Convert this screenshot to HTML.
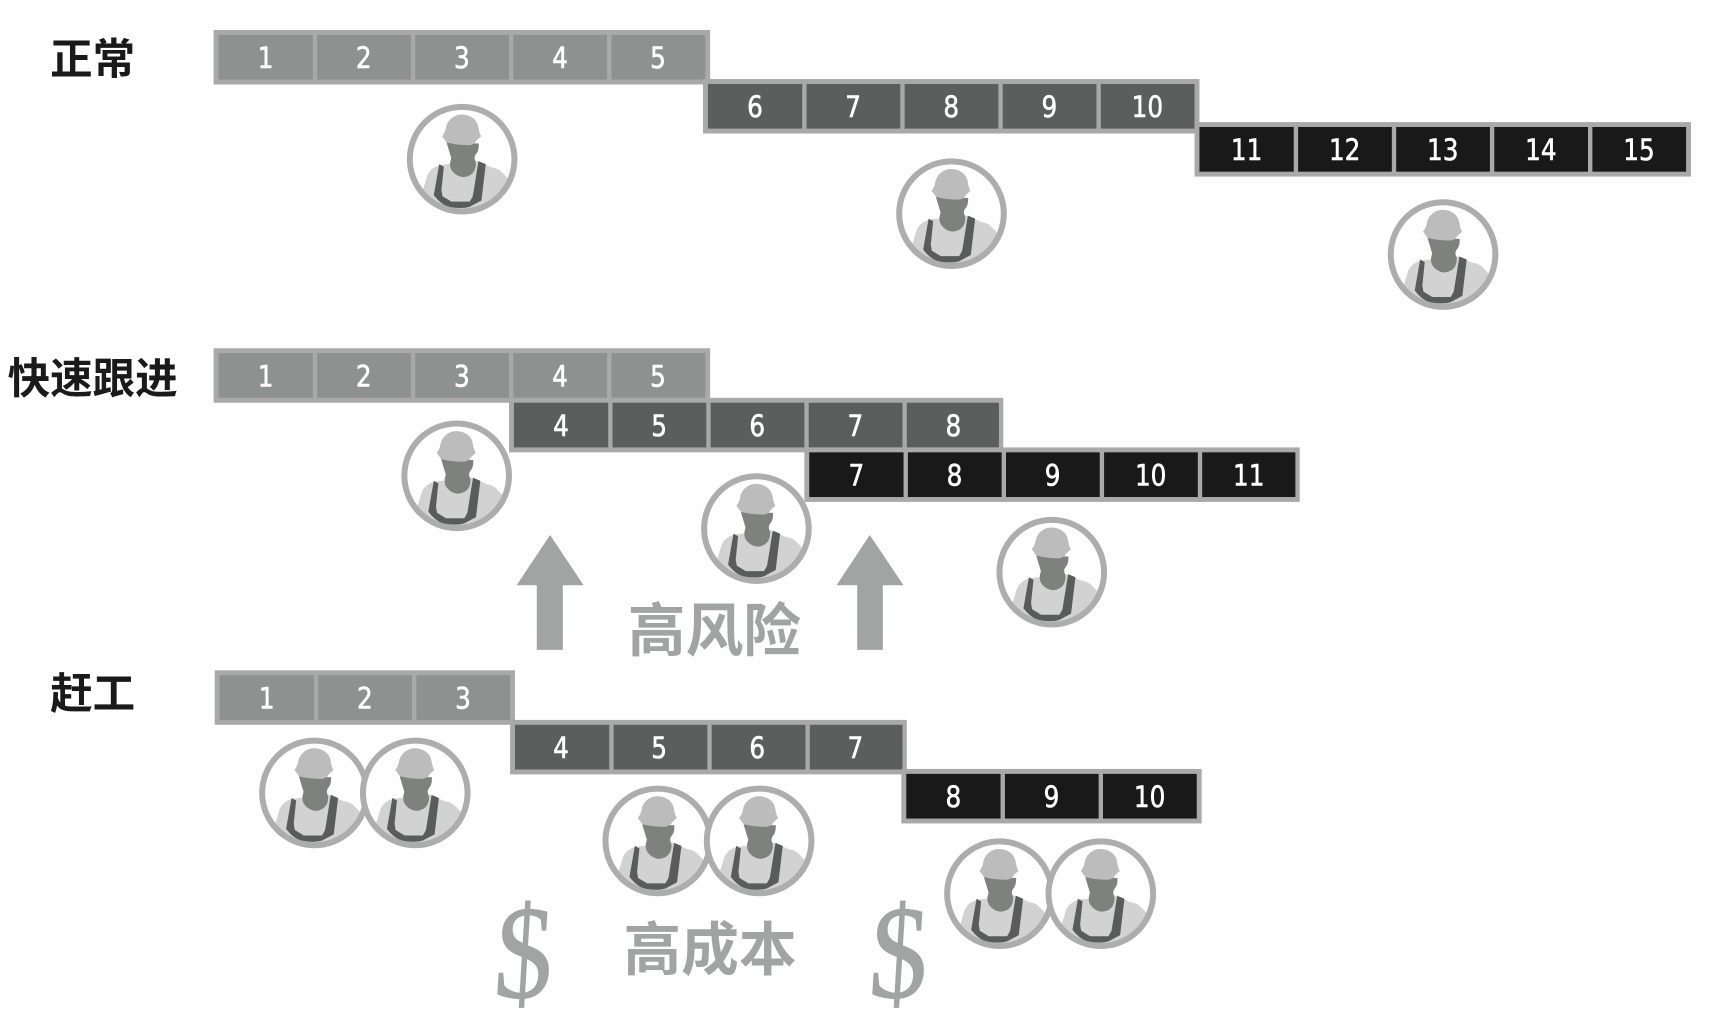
<!DOCTYPE html>
<html lang="zh">
<head>
<meta charset="utf-8">
<title>进度压缩</title>
<style>
html,body{margin:0;padding:0;background:#fefefe;}
svg{display:block;}
.o{fill:#a9a9a9;}
.a rect.c{fill:#8f9190;}
.b rect.c{fill:#5c5e5d;}
.k rect.c{fill:#191919;}
.n{font-family:"DejaVu Sans","Noto Sans CJK SC",sans-serif;font-size:27px;fill:#fff;stroke:#fff;stroke-width:.55px;text-anchor:middle;transform-box:fill-box;transform-origin:center;transform:scaleX(.84);}
.t{font-family:"Liberation Sans","Noto Sans CJK JP",sans-serif;font-weight:700;font-size:39px;fill:#1a1a1a;}
.g{font-family:"Liberation Sans","Noto Sans CJK SC",sans-serif;font-weight:700;font-size:53px;fill:#a2a4a3;}
.d{font-family:"Liberation Serif",serif;font-size:122px;fill:#a2a4a3;stroke:#a2a4a3;stroke-width:.9px;text-anchor:middle;}
</style>
</head>
<body>
<svg xmlns="http://www.w3.org/2000/svg" width="1709" height="1030" viewBox="0 0 1568 945">
<defs>
<clipPath id="cp"><circle cx="0" cy="0" r="46"/></clipPath>
<g id="p">
<circle r="48" fill="#fefefe"/>
<g clip-path="url(#cp)">
<path fill="#d2d2d2" d="M-35.8 27.5L-32 15Q-29 8-20.5 5.5L13 1.5L27 7.6Q33 8.5 36 11.5L41.3 16.8L44 40L0 50L-40 40Z"/>
<path fill="#5a5c5b" d="M-21 4.6L-26 33Q-20 41-12.8 43.7Q0 46 7 43.7L17.7 38L21.7 4.6L15 1.8L9.8 34L7 39L-9.8 39L-18 34L-19 28.4L-16.8 7Z"/>
<path fill="#7f817f" d="M-14.3-15.3L-10-1L-11 3Q-11.5 8-9 11Q-5 16 1 16.5Q8 16 11 11Q13 7 12.5 3L11.5 0Q11-3 13-5Q15.5-8 15.3-14.4Z"/>
<path fill="#bcbcbc" d="M-18.3-21C-17-23-15.5-25-15-28C-14-36-7-41-.6-41C7-41 13-37 14.5-31C15.5-27 15.5-24 17.5-21L13-17Q12-14 7-12.8C0-13-8-13.5-14.3-15.5Z"/>
</g>
<circle r="48" fill="none" stroke="#adadad" stroke-width="5.5"/>
</g>
</defs>

<rect width="1568" height="945" fill="#fefefe"/>

<text class="t" x="46" y="68">正常</text>
<text class="t" x="7" y="361">快速跟进</text>
<text class="t" x="46" y="650">赶工</text>

<g class="a" transform="translate(196,27.5)">
<rect class="o" width="455.5" height="50"/>
<rect class="c" x="4.5" y="4.5" width="86.5" height="41"/><rect class="c" x="95" y="4.5" width="86" height="41"/><rect class="c" x="185" y="4.5" width="86" height="41"/><rect class="c" x="275" y="4.5" width="86" height="41"/><rect class="c" x="365" y="4.5" width="86" height="41"/>
<text class="n" x="47.75" y="35">1</text><text class="n" x="137.75" y="35">2</text><text class="n" x="227.75" y="35">3</text><text class="n" x="317.75" y="35">4</text><text class="n" x="407.75" y="35">5</text>
</g>
<g class="b" transform="translate(645,72.5)">
<rect class="o" width="455.5" height="50"/>
<rect class="c" x="4.5" y="4.5" width="86.5" height="41"/><rect class="c" x="95" y="4.5" width="86" height="41"/><rect class="c" x="185" y="4.5" width="86" height="41"/><rect class="c" x="275" y="4.5" width="86" height="41"/><rect class="c" x="365" y="4.5" width="86" height="41"/>
<text class="n" x="47.75" y="35">6</text><text class="n" x="137.75" y="35">7</text><text class="n" x="227.75" y="35">8</text><text class="n" x="317.75" y="35">9</text><text class="n" x="407.75" y="35">10</text>
</g>
<g class="k" transform="translate(1096,112)">
<rect class="o" width="455.5" height="50"/>
<rect class="c" x="4.5" y="4.5" width="86.5" height="41"/><rect class="c" x="95" y="4.5" width="86" height="41"/><rect class="c" x="185" y="4.5" width="86" height="41"/><rect class="c" x="275" y="4.5" width="86" height="41"/><rect class="c" x="365" y="4.5" width="86" height="41"/>
<text class="n" x="47.75" y="35">11</text><text class="n" x="137.75" y="35">12</text><text class="n" x="227.75" y="35">13</text><text class="n" x="317.75" y="35">14</text><text class="n" x="407.75" y="35">15</text>
</g>

<g class="a" transform="translate(196,319.5)">
<rect class="o" width="455.5" height="50"/>
<rect class="c" x="4.5" y="4.5" width="86.5" height="41"/><rect class="c" x="95" y="4.5" width="86" height="41"/><rect class="c" x="185" y="4.5" width="86" height="41"/><rect class="c" x="275" y="4.5" width="86" height="41"/><rect class="c" x="365" y="4.5" width="86" height="41"/>
<text class="n" x="47.75" y="35">1</text><text class="n" x="137.75" y="35">2</text><text class="n" x="227.75" y="35">3</text><text class="n" x="317.75" y="35">4</text><text class="n" x="407.75" y="35">5</text>
</g>
<g class="b" transform="translate(467,365)">
<rect class="o" width="453.5" height="50"/>
<rect class="c" x="4.5" y="4.5" width="86.5" height="41"/><rect class="c" x="95" y="4.5" width="86" height="41"/><rect class="c" x="185" y="4.5" width="86" height="41"/><rect class="c" x="275" y="4.5" width="86" height="41"/><rect class="c" x="365" y="4.5" width="84.5" height="41"/>
<text class="n" x="47.75" y="35">4</text><text class="n" x="137.75" y="35">5</text><text class="n" x="227.75" y="35">6</text><text class="n" x="317.75" y="35">7</text><text class="n" x="407.75" y="35">8</text>
</g>
<g class="k" transform="translate(738,410.5)">
<rect class="o" width="454.5" height="50"/>
<rect class="c" x="4.5" y="4.5" width="86.5" height="41"/><rect class="c" x="95" y="4.5" width="86" height="41"/><rect class="c" x="185" y="4.5" width="86" height="41"/><rect class="c" x="275" y="4.5" width="86" height="41"/><rect class="c" x="365" y="4.5" width="85.5" height="41"/>
<text class="n" x="47.75" y="35">7</text><text class="n" x="137.75" y="35">8</text><text class="n" x="227.75" y="35">9</text><text class="n" x="317.75" y="35">10</text><text class="n" x="407.75" y="35">11</text>
</g>

<g class="a" transform="translate(197,615)">
<rect class="o" width="275.5" height="50"/>
<rect class="c" x="4.5" y="4.5" width="86.5" height="41"/><rect class="c" x="95" y="4.5" width="86" height="41"/><rect class="c" x="185" y="4.5" width="86" height="41"/>
<text class="n" x="47.75" y="35">1</text><text class="n" x="137.75" y="35">2</text><text class="n" x="227.75" y="35">3</text>
</g>
<g class="b" transform="translate(468,660.5)">
<rect class="o" width="364" height="50"/>
<rect class="c" x="4.5" y="4.5" width="86.5" height="41"/><rect class="c" x="95" y="4.5" width="86" height="41"/><rect class="c" x="185" y="4.5" width="86" height="41"/><rect class="c" x="275" y="4.5" width="85" height="41"/>
<text class="n" x="46.75" y="35">4</text><text class="n" x="136.75" y="35">5</text><text class="n" x="226.75" y="35">6</text><text class="n" x="316.75" y="35">7</text>
</g>
<g class="k" transform="translate(827,705.5)">
<rect class="o" width="275.5" height="50"/>
<rect class="c" x="4.5" y="4.5" width="86.5" height="41"/><rect class="c" x="95" y="4.5" width="86" height="41"/><rect class="c" x="185" y="4.5" width="86" height="41"/>
<text class="n" x="47.75" y="35">8</text><text class="n" x="137.75" y="35">9</text><text class="n" x="227.75" y="35">10</text>
</g>

<use href="#p" x="424" y="146"/>
<use href="#p" x="873" y="196"/>
<use href="#p" x="1324" y="233.5"/>
<use href="#p" x="419" y="436.5"/>
<use href="#p" x="694" y="485"/>
<use href="#p" x="965" y="525"/>
<use href="#p" x="288.5" y="727.5"/>
<use href="#p" x="381" y="727.5"/>
<use href="#p" x="603.5" y="771.5"/>
<use href="#p" x="696.5" y="771.5"/>
<use href="#p" x="917" y="820"/>
<use href="#p" x="1010" y="820"/>

<polygon fill="#a2a4a3" points="504.7,490.8 535.5,537 516.4,537 516.4,596.3 492.5,596.3 492.5,537 474,537"/>
<polygon fill="#a2a4a3" points="798,490.8 829,537 810,537 810,596.3 786.5,596.3 786.5,537 767.5,537"/>

<text class="g" x="576" y="597.5">高风险</text>
<text class="g" x="572" y="890">高成本</text>

<text class="d" transform="translate(478.5,915) skewX(-3.5) scale(.87,1)">$</text>
<text class="d" transform="translate(822.5,915) skewX(-3.5) scale(.87,1)">$</text>
</svg>
</body>
</html>
